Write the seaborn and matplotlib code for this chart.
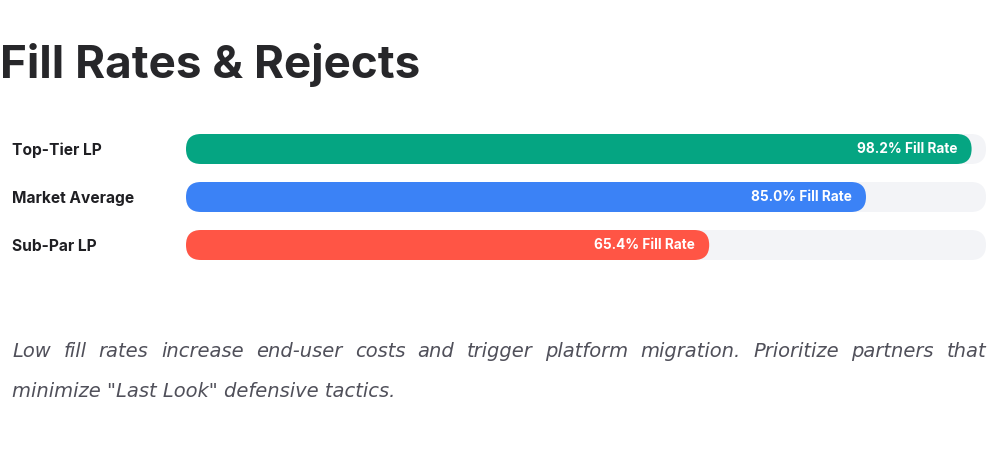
import matplotlib
matplotlib.use("Agg")
import matplotlib.pyplot as plt
import seaborn as sns
import pandas as pd
from matplotlib.patches import FancyBboxPatch
from matplotlib.transforms import IdentityTransform

# ---- data ----
categories = ["Top-Tier LP", "Market Average", "Sub-Par LP"]
fill_rates = [98.2, 85.0, 65.4]
track_max = [100, 100, 100]
bar_colors = ["#05A582", "#3B82F6", "#FF5545"]
title = "Fill Rates & Rejects"
note_line1 = "Low fill rates increase end-user costs and trigger platform migration. Prioritize partners that"
note_line2 = 'minimize "Last Look" defensive tactics.'

sns.set_theme(style="white")
plt.rcParams["font.family"] = ["Inter", "DejaVu Sans"]

W, H = 1000, 476
fig = plt.figure(figsize=(W / 100, H / 100), dpi=100)
fig.patch.set_facecolor("#FFFFFF")

# axes: track from x=186 to 986 px, rows centered at 149/197/245 px
ax_left, ax_right = 186, 986
ax_top, ax_bot = 125, 269
ax = fig.add_axes([ax_left / W, 1 - ax_bot / H, (ax_right - ax_left) / W, (ax_bot - ax_top) / H])

df = pd.DataFrame({"cat": categories, "val": fill_rates, "track": track_max})
bw = 30 / 48
sns.barplot(data=df, x="track", y="cat", color="#F3F4F7", width=bw, ax=ax, orient="h",
            saturation=1)
sns.barplot(data=df, x="val", y="cat", hue="cat", palette=bar_colors, width=bw, ax=ax,
            orient="h", legend=False, dodge=False, saturation=1)

ax.set_xlim(0, 100)
ax.set_ylim(2.5, -0.5)
ax.set_xlabel("")
ax.set_ylabel("")
ax.set_xticks([])
for s in ax.spines.values():
    s.set_visible(False)
ax.set_facecolor("none")
ax.tick_params(axis="y", length=0, pad=174 * 0.72)
for lbl in ax.get_yticklabels():
    lbl.set_ha("left")
    lbl.set_fontweight("bold")
    lbl.set_fontsize(11.2)
    lbl.set_color("#1F1F23")

# replace rectangles with rounded versions (computed from library's patch geometry)
fig.canvas.draw()
patches = list(ax.patches)
for k, p in enumerate(patches):
    bb = p.get_window_extent()
    fc = p.get_facecolor()
    p.set_visible(False)
    r = bb.height / 2
    fb = FancyBboxPatch((bb.x0, bb.y0), bb.width, bb.height,
                        boxstyle=f"round,pad=0,rounding_size={r}",
                        transform=IdentityTransform(), facecolor=fc, edgecolor="none",
                        zorder=1 + k * 0.01, clip_on=False)
    ax.add_artist(fb)

# value labels inside bars
for i, v in enumerate(fill_rates):
    ax.annotate(f"{v:.1f}% Fill Rate", xy=(v, i), xytext=(-14, 0), textcoords="offset pixels",
                ha="right", va="center", color="white", fontsize=9.8, fontweight="bold", zorder=5)

# title
fig.text(0 / W, 1 - 78 / H, title, ha="left", va="baseline", fontsize=33,
         fontweight="bold", color="#27272A")

# justified note text
renderer = fig.canvas.get_renderer()
base_font = dict(family=["DejaVu Sans"], style="italic", color="#50505A")
t = fig.text(0, 0, note_line2, fontsize=13, **base_font)
w2 = t.get_window_extent(renderer).width
t.remove()
fs = min(14.0, 13 * 388 / w2)
note_font = dict(base_font, fontsize=fs)

words = note_line1.split(" ")
x0, x1 = 12, 986
widths = []
for w_ in words:
    t = fig.text(0, 0, w_, **note_font)
    widths.append(t.get_window_extent(renderer).width)
    t.remove()
gap = (x1 - x0 - sum(widths)) / (len(words) - 1)
x = x0
for w_, wd in zip(words, widths):
    fig.text(x / W, 1 - 357 / H, w_, ha="left", va="baseline", **note_font)
    x += wd + gap
fig.text(x0 / W, 1 - 397 / H, note_line2, ha="left", va="baseline", **note_font)

fig.savefig("out.png", dpi=100, facecolor=fig.get_facecolor())
